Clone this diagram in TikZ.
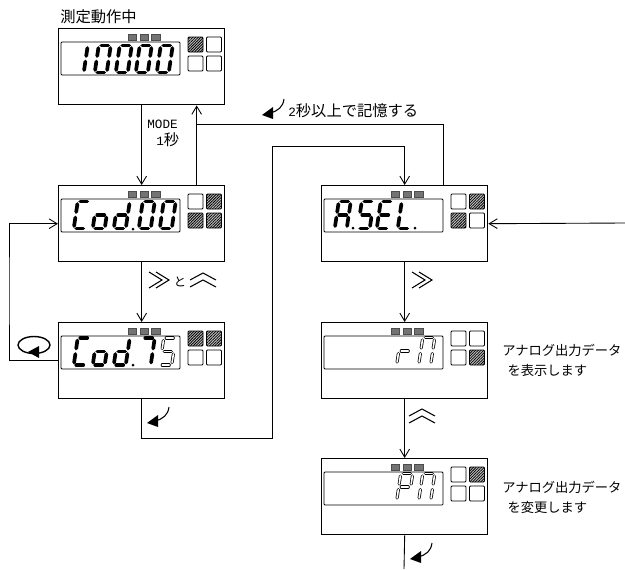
\documentclass[tikz,border=0pt]{standalone}
\usepackage{fontspec}
\setmainfont{Noto Sans CJK JP}
\newfontfamily\halfw{Liberation Mono}
\usetikzlibrary{arrows.meta,patterns.meta}
\tikzset{
  panel/.style={draw,line width=.8pt,minimum width=3.32cm,minimum height=1.52cm,inner sep=0pt,anchor=north west},
  lcd/.style={draw,line width=.5pt,rounded corners=.5pt,minimum width=2.38cm,minimum height=.66cm,inner sep=0pt},
  lamp/.style={draw=gray!60!black,line width=.2pt,fill=gray!90!black,minimum width=.17cm,minimum height=.12cm,inner sep=0pt},
  keyoff/.style={draw,line width=.5pt,rounded corners=.6pt,minimum width=.3cm,minimum height=.3cm,inner sep=0pt},
  keyon/.style={keyoff,fill=gray!50,postaction={pattern={Lines[angle=45,distance=1.1pt,line width=.45pt]}}},
  lit/.style={line width=2.1pt,line cap=round},
  hollow/.style={draw=white,line width=.9pt,line cap=round,preaction={draw=black,line width=1.75pt,line cap=round}},
  seg a/.style={insert path={(2.5,1.5) -- (9.5,1.5)}},
  seg b/.style={insert path={(12,4) -- (12,12)}},
  seg c/.style={insert path={(12,17.5) -- (12,26)}},
  seg d/.style={insert path={(2.5,28.5) -- (9.5,28.5)}},
  seg e/.style={insert path={(0,17.5) -- (0,26)}},
  seg f/.style={insert path={(0,4) -- (0,12)}},
  seg g/.style={insert path={(2.5,15) -- (9.5,15)}},
  jp/.style={font=\fontsize{8.7pt}{10pt}\selectfont,inner sep=0pt},
  note/.style={font=\fontsize{7.55pt}{11.3pt}\selectfont,inner sep=0pt,align=left,anchor=west},
  wire/.style={line width=.5pt},
  >={Straight Barb[length=4.6pt,width=5.5pt]}
}
\newcommand{\meterpanel}[7]{
  \node[panel] (#1) at (#2,#3) {};
  \begin{scope}[shift={(#2,#3)}]
    \node[lcd] (#1lcd) at (62.5,30.5) {};
    \node[lamp] (#1lampa) at (74,9) {};
    \node[lamp] (#1lampb) at (86,9) {};
    \node[lamp] (#1lampc) at (97.5,9) {};
    \node[#4] (#1keya) at (137.5,16.5) {};
    \node[#5] (#1keyb) at (156,16.5) {};
    \node[#6] (#1keyc) at (137.5,35.5) {};
    \node[#7] (#1keyd) at (156,35.5) {};
  \end{scope}
}
\newcommand{\digit}[4]{
  \begin{scope}[shift={(#1,#2)},xslant=.15]
    \foreach \s in {#3} \draw[#4,seg \s];
  \end{scope}
}
\newcommand{\turnarrow}[2]{
  \begin{scope}[shift={(#1,#2)}]
    \draw[line width=.6pt] (0,0) .. controls (-1,8) and (-6,12) .. (-14,14);
    \fill (-22,16) -- (-11,8) -- (-11,20) -- cycle;
  \end{scope}
}
\newcommand{\chevright}[2]{
  \draw[line width=.6pt] (#1,#2) -- ++(13,8) -- ++(-13,8);
  \draw[line width=.6pt] (#1+7,#2) -- ++(13,8) -- ++(-13,8);
}
\newcommand{\chevup}[2]{
  \draw[line width=.6pt] (#1,#2+7) -- ++(13,-7) -- ++(13,7);
  \draw[line width=.6pt] (#1,#2+14) -- ++(13,-7) -- ++(13,7);
}
\begin{document}
\begin{tikzpicture}[x=.02cm,y=-.02cm]
\useasboundingbox (0,0) rectangle (625,569);

\meterpanel{meas}{58}{28}{keyon}{keyoff}{keyoff}{keyoff}
\meterpanel{codsel}{58}{185}{keyoff}{keyon}{keyon}{keyon}
\meterpanel{codset}{58}{322}{keyon}{keyon}{keyoff}{keyoff}
\meterpanel{asel}{321}{185}{keyoff}{keyon}{keyon}{keyoff}
\meterpanel{show}{321}{322}{keyoff}{keyoff}{keyoff}{keyon}
\meterpanel{change}{321}{458}{keyoff}{keyon}{keyoff}{keyoff}

\digit{76}{44}{b,c}{lit}
\digit{99}{44}{a,b,c,d,e,f}{lit}
\digit{120}{44}{a,b,c,d,e,f}{lit}
\digit{140}{44}{a,b,c,d,e,f}{lit}
\digit{161}{44}{a,b,c,d,e,f}{lit}

\digit{78}{200}{a,d,e,f}{lit}
\digit{97}{200}{c,d,e,g}{lit}
\digit{118}{200}{b,c,d,e,g}{lit}
\digit{143}{200}{a,b,c,d,e,f}{lit}
\digit{164}{200}{a,b,c,d,e,f}{lit}
\fill (133,229) circle (1.5);

\digit{78}{336.5}{a,d,e,f}{lit}
\digit{97}{336.5}{c,d,e,g}{lit}
\digit{118}{336.5}{b,c,d,e,g}{lit}
\digit{143}{336.5}{a,b,c}{lit}
\digit{164}{336.5}{a,c,d,f,g}{hollow}
\fill (133,365) circle (1.5);

\digit{339}{200}{a,b,c,e,f,g}{lit}
\digit{362}{200}{a,c,d,f,g}{lit}
\digit{381}{200}{a,d,e,f,g}{lit}
\digit{402}{200}{d,e,f}{lit}
\fill (353,228) circle (1.5);
\fill (415,228) circle (1.5);

\digit{401}{336}{e,g}{hollow}
\digit{423}{336}{a,b,c,e,f}{hollow}

\digit{401}{472}{a,b,e,f,g}{hollow}
\digit{423}{472}{a,b,c,e,f}{hollow}

\coordinate (store) at (196,124);
\coordinate (loopleft) at (9,290);
\coordinate (jogbottom) at (272,438);
\coordinate (jogtop) at (272,146);
\coordinate (rightin) at (625,223);
\coordinate (bottomout) at (404,569);

\draw[wire,->] (meas.south) -- (codsel.north);
\draw[wire,->] ([xshift=1.1cm]codsel.north) -- ([xshift=1.1cm]meas.south);
\draw[wire] ([xshift=.78cm]asel.north) |- (store);
\draw[wire,->] (codsel.south) -- (codset.north);
\draw[wire,->] (codset.west) -| (loopleft) |- (codsel.west);
\draw[wire,->] (codset.south) |- (jogbottom) -- (jogtop) -| (asel.north);
\draw[wire,->] (rightin) -- (asel.east);
\draw[wire,->] (asel.south) -- (show.north);
\draw[wire,->] (show.south) -- (change.north);
\draw[wire] (change.south) -- (bottomout);

\draw[line width=.8pt] (34,345) ellipse (16 and 8.5);
\fill (28,352) -- (39,346) -- (39,358) -- cycle;

\turnarrow{169}{407}
\turnarrow{284}{99}
\turnarrow{432}{543}

\chevright{149}{272}
\chevup{190}{273}
\chevright{412}{272}
\chevup{409}{409}

\node[jp,anchor=west] (titlemeas) at (60,16.5) {測定動作中};
\node[jp,anchor=west] (modekey) at (147,124) {\fontsize{7.2pt}{9pt}\halfw MODE};
\node[jp,anchor=west] (modetime) at (156,140) {{\fontsize{7.2pt}{9pt}\halfw 1}秒};
\node[jp,anchor=west] (storetime) at (288,111) {{\fontsize{7.2pt}{9pt}\halfw 2}秒以上で記憶する};
\node[jp,font=\fontsize{7pt}{9pt}\selectfont] (andkey) at (180,282) {と};
\node[note] (shownote) at (502,360.5) {アナログ出力データ\\\hspace{3pt}を表示します};
\node[note] (changenote) at (502,497) {アナログ出力データ\\\hspace{3pt}を変更します};
\end{tikzpicture}
\end{document}
